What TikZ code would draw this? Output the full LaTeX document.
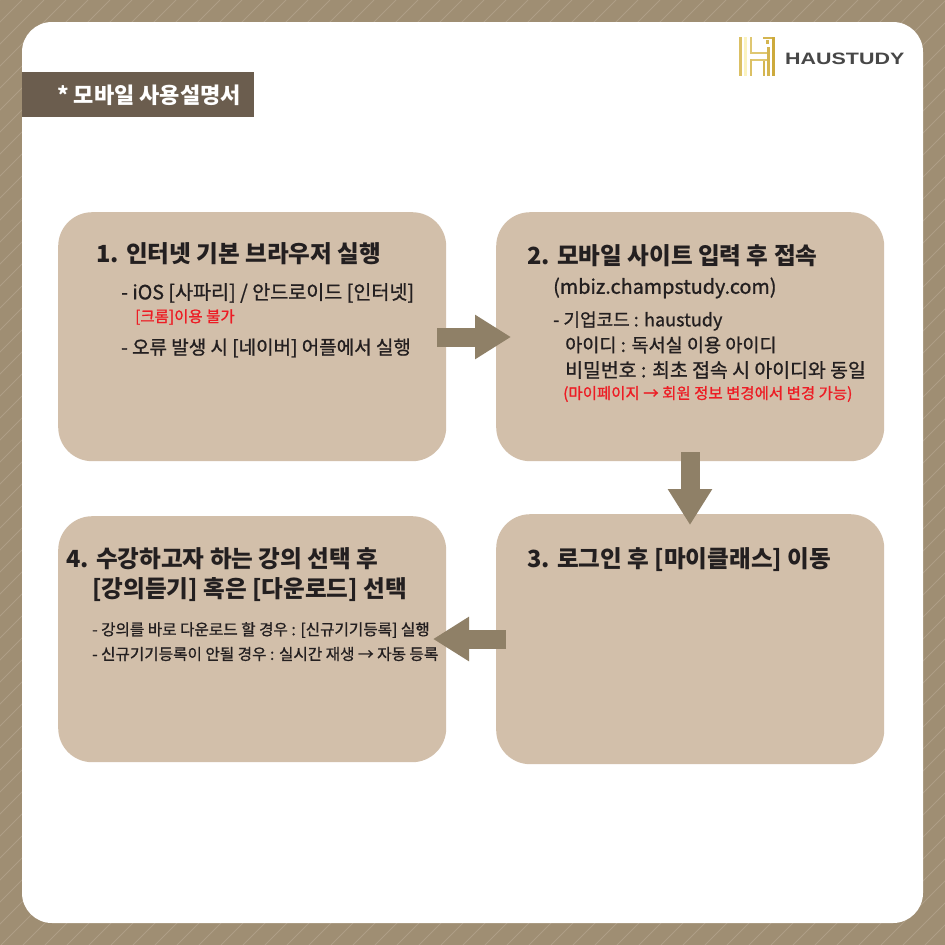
\documentclass[tikz,border=0pt]{standalone}
\usepackage{fontspec}
\setmainfont{Noto Sans CJK KR}
\newfontfamily\krmid[FakeBold=1.0]{Noto Sans CJK KR}
\newfontfamily\krhead{Noto Sans CJK KR}
\newfontfamily\logofont{Liberation Sans}
\usetikzlibrary{arrows.meta}
\definecolor{frameC}{HTML}{9F8E73}
\definecolor{stripeC}{HTML}{B8AA93}
\definecolor{barC}{HTML}{6B5D4E}
\definecolor{cardC}{HTML}{D2BFAA}
\definecolor{arrowC}{HTML}{8F8067}
\definecolor{redC}{HTML}{ED1C24}
\definecolor{inkC}{HTML}{231F20}
\definecolor{goldA}{HTML}{FBF3C0}
\definecolor{goldB}{HTML}{CDAA3C}
\tikzset{
  card/.style={fill=cardC,rounded corners=34pt,minimum width=388pt,inner sep=0pt,anchor=north west},
  head/.style={anchor=west,inner sep=0pt,text=inkC,font=\krhead\bfseries\fontsize{23.6}{26}\selectfont},
  body/.style={anchor=west,inner sep=0pt,text=inkC,font=\krmid\fontsize{19}{21}\selectfont},
  small/.style={anchor=west,inner sep=0pt,text=inkC,font=\krmid\fontsize{15.65}{17}\selectfont},
  note/.style={anchor=west,inner sep=0pt,text=redC,font=\krmid\fontsize{15.5}{17}\selectfont},
  flow/.style={draw=arrowC,line width=19pt,-{Triangle[length=36pt,width=42pt,fill=arrowC]}},
  gold/.style={left color=goldA,right color=goldB,draw=none}
}
\begin{document}
\begin{tikzpicture}[x=1pt,y=-1pt]
\useasboundingbox (0,0) rectangle (945,945);
% frame
\fill[frameC] (0,0) rectangle (945,945);
\begin{scope}
\clip (0,0) rectangle (945,945);
\foreach \i in {0,22,...,1900}{
  \draw[stripeC,line width=1pt,opacity=.6] (\i,0) -- (\i-945,945);
}
\end{scope}
\fill[white,rounded corners=30pt] (22,22) rectangle (923,923);
% title bar
\fill[barC] (22,72) rectangle (254,117);
\node[anchor=west,inner sep=0pt,text=white,font=\krhead\bfseries\fontsize{22}{25}\selectfont] (title) at (57,95) {* 모바일 사용설명서};
% logo
\fill[goldB!70!goldA] (739,37) rectangle (742,76);
\fill[goldA] (744,37) rectangle (747,76);
\fill[goldB!60!goldA] (750,37) rectangle (752,54);
\fill[goldB!60!goldA] (750,52) rectangle (770,54);
\fill[goldB!60!goldA] (750,59) rectangle (770,61);
\fill[goldB!70!goldA] (750,59) rectangle (752,76);
\fill[goldB!85!goldA] (763,37) rectangle (775,39);
\fill[goldB!85!goldA] (767,47) rectangle (770,76);
\fill[goldB!85!goldA] (763,61) rectangle (765,76);
\fill[goldB] (772,37) rectangle (775,76);
\fill[goldB!85!goldA] (766,40) rectangle (769,44);
\node[anchor=west,inner sep=0pt,text=black!72] (logo) at (785,58.5) {\logofont\bfseries\fontsize{16.5}{18}\selectfont\scalebox{1.3}[1]{HAUSTUDY}};
% cards
\node[card,minimum height=249pt] (c1) at (58,212) {};
\node[card,minimum height=249pt] (c2) at (496,212) {};
\node[card,minimum height=250pt] (c3) at (496,514) {};
\node[card,minimum height=246pt] (c4) at (58,516) {};
% card 1
\node[head] (h1) at (96,254) {1. 인터넷 기본 브라우저 실행};
\node[body,font=\krmid\fontsize{19.6}{21}\selectfont] (t1a) at (121,293) {- iOS [사파리] / 안드로이드 [인터넷]};
\node[note] (t1b) at (135,317) {[크롬]이용 불가};
\node[body] (t1c) at (121,348) {- 오류 발생 시 [네이버] 어플에서 실행};
% card 2
\node[head] (h2) at (527,256) {2. 모바일 사이트 입력 후 접속};
\node[body,font=\krmid\fontsize{19.8}{21}\selectfont] (t2u) at (553,288) {(mbiz.champstudy.com)};
\node[body,font=\krmid\fontsize{18}{21}\selectfont] (t2a) at (553,321) {- 기업코드 : haustudy};
\node[body,font=\krmid\fontsize{18.6}{21}\selectfont] (t2b) at (565,345) {아이디 : 독서실 이용 아이디};
\node[body,font=\krmid\fontsize{19.4}{21}\selectfont] (t2c) at (565,370) {비밀번호 : 최초 접속 시 아이디와 동일};
\node[note] (t2d) at (563,394) {(마이페이지 → 회원 정보 변경에서 변경 가능)};
% card 3
\node[head] (h3) at (527,560) {3. 로그인 후 [마이클래스] 이동};
% card 4
\node[head] (h4a) at (66,559) {4. 수강하고자 하는 강의 선택 후};
\node[head] (h4b) at (92,590) {[강의듣기] 혹은 [다운로드] 선택};
\node[small] (t4a) at (92,630) {- 강의를 바로 다운로드 할 경우 : [신규기기등록] 실행};
\node[small] (t4b) at (92,654) {- 신규기기등록이 안될 경우 : 실시간 재생 → 자동 등록};
% arrows
\coordinate (a1s) at (437,337); \coordinate (a1e) at (511,337);
\coordinate (a2s) at (690,452); \coordinate (a2e) at (690,525);
\coordinate (a3s) at (506,639); \coordinate (a3e) at (433,639);
\draw[flow] (a1s) -- (a1e);
\draw[flow] (a2s) -- (a2e);
\draw[flow] (a3s) -- (a3e);
\end{tikzpicture}
\end{document}
